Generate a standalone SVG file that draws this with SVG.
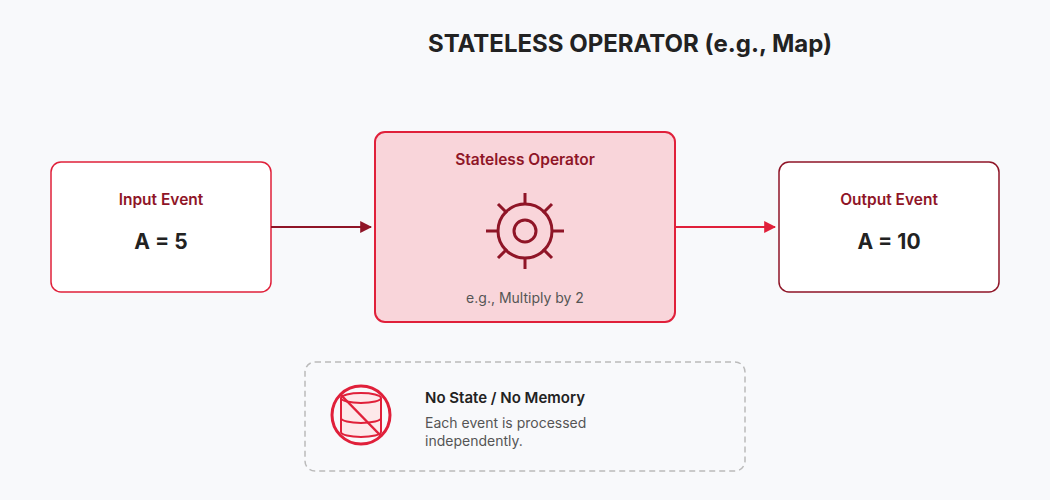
<svg xmlns="http://www.w3.org/2000/svg" width="1050" height="500" viewBox="0 0 1050 500">
<defs>
<style>
text{font-family:Inter,"Liberation Sans",sans-serif}
.t{font-weight:600;font-size:15.5px;fill:#8f1527;text-anchor:middle}
.v{font-weight:700;font-size:21px;fill:#222;text-anchor:middle}
</style>
<marker id="a1" viewBox="0 0 10 10" refX="9" refY="5" markerWidth="12" markerHeight="12" markerUnits="userSpaceOnUse" orient="auto"><path d="M0,0L10,5L0,10z" fill="#8f1527"/></marker>
<marker id="a2" viewBox="0 0 10 10" refX="9" refY="5" markerWidth="12" markerHeight="12" markerUnits="userSpaceOnUse" orient="auto"><path d="M0,0L10,5L0,10z" fill="#e0203a"/></marker>
</defs>
<rect width="1050" height="500" fill="#f8f9fb"/>
<text x="630" y="52" text-anchor="middle" font-size="24" font-weight="700" fill="#222">STATELESS OPERATOR (e.g., Map)</text>
<g id="input"><rect x="51" y="162" width="220" height="130" rx="10" fill="#fff" stroke="#e0203a" stroke-width="1.5"/><text class="t" x="161" y="205">Input Event</text><text class="v" x="161" y="249">A = 5</text></g>
<g id="operator"><rect x="375" y="132" width="300" height="190" rx="10" fill="#f9d5da" stroke="#e0203a" stroke-width="2"/><text class="t" x="525" y="165">Stateless Operator</text>
<g fill="none" stroke="#8f1527" stroke-width="3"><circle cx="525" cy="231" r="27"/><circle cx="525" cy="231" r="11"/><path d="M525,193V205M525,257V269M486,231H498M552,231H564M498,204L507,213M552,204L543,213M498,258L507,249M552,258L543,249"/></g>
<text x="525" y="303" text-anchor="middle" font-size="14" fill="#555">e.g., Multiply by 2</text></g>
<g id="output"><rect x="779" y="162" width="220" height="130" rx="10" fill="#fff" stroke="#8f1527" stroke-width="1.5"/><text class="t" x="889" y="205">Output Event</text><text class="v" x="889" y="249">A = 10</text></g>
<g id="connectors"><line x1="271" y1="227" x2="371" y2="227" stroke="#8f1527" stroke-width="2" marker-end="url(#a1)"/><line x1="675" y1="227" x2="775" y2="227" stroke="#e0203a" stroke-width="2" marker-end="url(#a2)"/></g>
<g id="note"><rect x="305" y="362" width="440" height="109" rx="10" fill="#f8f9fb" stroke="#bbb" stroke-width="1.5" stroke-dasharray="6 4"/>
<g stroke="#e0203a" stroke-width="2"><path d="M341,398V432A20,5 0 0 0 381,432V398" fill="#fde8ea"/><ellipse cx="361" cy="398" rx="20" ry="5" fill="#fde8ea"/><path d="M341,418A20,5 0 0 0 381,418" fill="none"/><circle cx="361" cy="415" r="29" fill="none" stroke-width="3"/><line x1="341" y1="395" x2="381" y2="436" stroke-width="2.5"/></g>
<text x="425" y="403" font-size="15" font-weight="600" fill="#222">No State / No Memory</text>
<text x="425" y="428" font-size="14" fill="#555">Each event is processed</text><text x="425" y="446" font-size="14" fill="#555">independently.</text></g>
</svg>
